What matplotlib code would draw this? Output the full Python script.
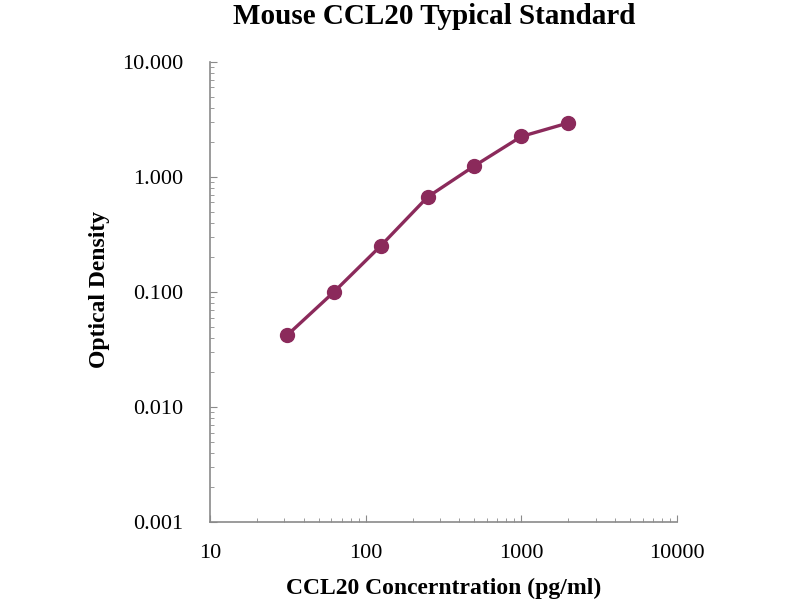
import matplotlib.pyplot as plt
from matplotlib.ticker import LogLocator, FixedLocator, FixedFormatter, NullFormatter

# standard concentrations (pg/ml) and optical density readings
conc = [31.25, 62.5, 125, 250, 500, 1000, 2000]
od = [0.042, 0.100, 0.252, 0.67, 1.25, 2.25, 2.95]

x_ticks = [10, 100, 1000, 10000]
x_labels = ['10', '100', '1000', '10000']
y_ticks = [0.001, 0.01, 0.1, 1, 10]
y_labels = ['0.001', '0.010', '0.100', '1.000', '10.000']

plt.rcParams['font.family'] = 'Liberation Serif'

fig = plt.figure(figsize=(8, 6), dpi=100)
ax = fig.add_axes([0.2625, 0.13, 0.5838, 0.7667])

ax.plot(conc, od, color='#8B2A5B', linewidth=2.4, marker='o', markersize=10,
        markerfacecolor='#8B2A5B', markeredgecolor='#8B2A5B')

ax.set_xscale('log')
ax.set_yscale('log')
ax.set_xlim(10, 10000)
ax.set_ylim(0.001, 10)

ax.xaxis.set_major_locator(FixedLocator(x_ticks))
ax.xaxis.set_major_formatter(FixedFormatter(x_labels))
ax.yaxis.set_major_locator(FixedLocator(y_ticks))
ax.yaxis.set_major_formatter(FixedFormatter(y_labels))
ax.xaxis.set_minor_locator(LogLocator(base=10, subs=range(2, 10)))
ax.yaxis.set_minor_locator(LogLocator(base=10, subs=range(2, 10)))
ax.xaxis.set_minor_formatter(NullFormatter())
ax.yaxis.set_minor_formatter(NullFormatter())

for side in ['top', 'right']:
    ax.spines[side].set_visible(False)
for side in ['left', 'bottom']:
    ax.spines[side].set_color('#8a8a8a')
    ax.spines[side].set_linewidth(1.2)

ax.tick_params(which='major', direction='in', length=5, color='#8a8a8a', labelsize=16)
ax.tick_params(which='minor', direction='in', length=3, color='#8a8a8a')
ax.tick_params(axis='y', pad=19)
ax.tick_params(axis='x', pad=16)

fig.text(0.543, 0.972, 'Mouse CCL20 Typical Standard', ha='center', va='center',
         fontsize=21, fontweight='bold')
ax.set_xlabel('CCL20 Concerntration (pg/ml)', fontsize=17, fontweight='bold')
ax.set_ylabel('Optical Density', fontsize=17, fontweight='bold')
ax.xaxis.set_label_coords(0.5, -0.122)
ax.yaxis.set_label_coords(-0.214, 0.505)

fig.savefig('out.png', dpi=100)
